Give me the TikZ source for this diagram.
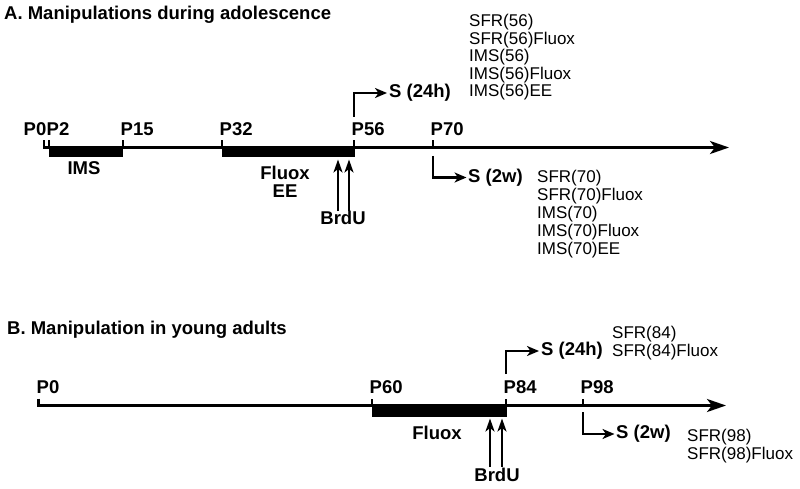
\documentclass[tikz,border=0pt]{standalone}
\usepackage{fontspec}
\setmainfont{Liberation Sans}
\usetikzlibrary{arrows.meta}
\tikzset{
  axis/.style={line width=2.8pt, line join=miter, -{Stealth[length=19pt,width=13pt,inset=5pt]}},
  tick/.style={line width=2.6pt},
  bracket/.style={line width=2.2pt, -{Stealth[length=12pt,width=10pt,inset=3.5pt]}},
  uparr/.style={line width=2.2pt, -{Stealth[length=13pt,width=9pt,inset=3.5pt]}},
  lbl/.style={font=\fontsize{18.5}{20}\selectfont\bfseries, inner sep=0pt},
  grp/.style={font=\fontsize{17}{18}\selectfont, inner sep=0pt, anchor=base west},
}
\begin{document}
\begin{tikzpicture}[x=1pt,y=-1pt]
  \useasboundingbox (0,0) rectangle (800,489);

  % A. adolescence
  \node[lbl, anchor=base west] (ttlA) at (4,20) {A. Manipulations during adolescence};
  \coordinate (a0t) at (44,140.5);
  \coordinate (a0) at (44,147.5);
  \coordinate (aend) at (729,147.5);
  \fill (49,146.5) rectangle (123,157.5);
  \fill (222,146.5) rectangle (355,157.5);
  \draw[axis] (a0t) |- (aend);
  \foreach \x in {49,123,222,354,433}
    \draw[tick] (\x,147.5) -- (\x,140.5);
  \node[lbl, anchor=base east] (pa0) at (46.5,135.5) {P0};
  \node[lbl, anchor=base west] (pa2) at (46.5,135.5) {P2};
  \node[lbl, anchor=base west] (pa15) at (120.5,135.5) {P15};
  \node[lbl, anchor=base west] (pa32) at (219.5,135.5) {P32};
  \node[lbl, anchor=base west] (pa56) at (351.5,135.5) {P56};
  \node[lbl, anchor=base west] (pa70) at (430.5,135.5) {P70};
  \node[lbl, anchor=base] (imsA) at (84,174.5) {IMS};
  \node[lbl, anchor=base] (fluoxA) at (285,180) {Fluox};
  \node[lbl, anchor=base] (eeA) at (285,197) {EE};
  \node[lbl, anchor=base] (brduA) at (343,225) {BrdU};
  \coordinate (ua1) at (338,211); \coordinate (va1) at (338,159.5);
  \coordinate (ua2) at (349,211); \coordinate (va2) at (349,159.5);
  \draw[uparr] (ua1) -- (va1);
  \draw[uparr] (ua2) -- (va2);
  \node[lbl, anchor=west] (s24A) at (389,93) {S (24h)};
  \node[lbl, anchor=west] (s2wA) at (468,177.5) {S (2w)};
  \coordinate (b56) at (354,117);
  \coordinate (b70) at (433,156);
  \draw[bracket] (b56) |- ([xshift=-2pt]s24A.west);
  \draw[bracket] (b70) |- ([xshift=-1.5pt]s2wA.west);
  \foreach \t [count=\i from 0] in {SFR(56),SFR(56)Fluox,IMS(56),IMS(56)Fluox,IMS(56)EE}
    \node[grp] (g56-\i) at (469,27+17.5*\i) {\t};
  \foreach \t [count=\i from 0] in {SFR(70),SFR(70)Fluox,IMS(70),IMS(70)Fluox,IMS(70)EE}
    \node[grp] (g70-\i) at (537,183+17.75*\i) {\t};

  % B. young adults
  \node[lbl, anchor=base west] (ttlB) at (7,334) {B. Manipulation in young adults};
  \coordinate (b0t) at (38.5,398.5);
  \coordinate (bend) at (726,405.5);
  \fill (372,404.5) rectangle (507,416.5);
  \draw[axis] (b0t) |- (bend);
  \foreach \x in {372,506,583}
    \draw[tick] (\x,405.5) -- (\x,398.5);
  \node[lbl, anchor=base west] (pb0) at (36.5,393) {P0};
  \node[lbl, anchor=base west] (pb60) at (369.5,393) {P60};
  \node[lbl, anchor=base west] (pb84) at (503.5,393) {P84};
  \node[lbl, anchor=base west] (pb98) at (580.5,393) {P98};
  \node[lbl, anchor=base] (fluoxB) at (437,439.5) {Fluox};
  \node[lbl, anchor=base] (brduB) at (497,481.5) {BrdU};
  \coordinate (ub1) at (490,467); \coordinate (vb1) at (490,418.5);
  \coordinate (ub2) at (502,467); \coordinate (vb2) at (502,418.5);
  \draw[uparr] (ub1) -- (vb1);
  \draw[uparr] (ub2) -- (vb2);
  \node[lbl, anchor=west] (s24B) at (541,351) {S (24h)};
  \node[lbl, anchor=west] (s2wB) at (616,434) {S (2w)};
  \coordinate (b84) at (506,374);
  \coordinate (b98) at (583,412);
  \draw[bracket] (b84) |- ([xshift=-2pt]s24B.west);
  \draw[bracket] (b98) |- ([xshift=-1.5pt]s2wB.west);
  \foreach \t [count=\i from 0] in {SFR(84),SFR(84)Fluox}
    \node[grp] (g84-\i) at (612,338+18.5*\i) {\t};
  \foreach \t [count=\i from 0] in {SFR(98),SFR(98)Fluox}
    \node[grp] (g98-\i) at (687,441+18*\i) {\t};
\end{tikzpicture}
\end{document}
